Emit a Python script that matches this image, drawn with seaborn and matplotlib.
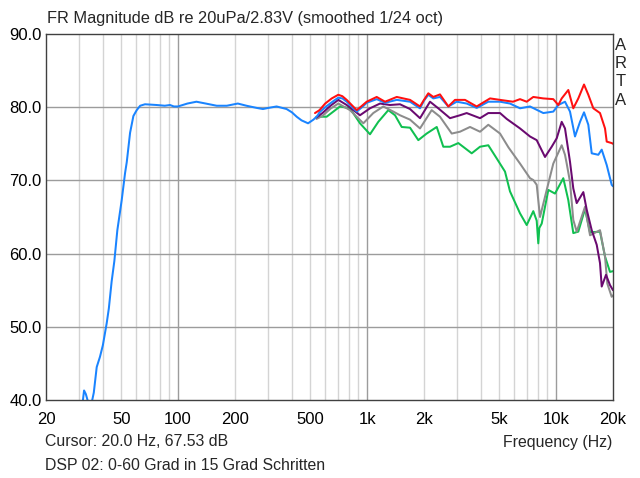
import matplotlib
matplotlib.use("Agg")
import matplotlib.pyplot as plt
import matplotlib.ticker as mticker
import seaborn as sns
import numpy as np

# values (frequency in Hz, level in dB)
blue_f = [31.2, 31.8, 32.5, 33.5, 35.0, 35.8, 37.1, 38.6, 40.0, 41.9, 43.0, 44.5, 46.0, 47.7,
          50.3, 52.4, 53.5, 55.7, 58.0, 60.4, 63.0, 66.8, 77.0, 85.0, 90.6, 95.0, 99.8, 112,
          125, 140, 160, 181, 207, 230, 261, 281, 300, 332, 375, 400, 424, 450, 487, 520, 545,
          560, 600, 660, 704, 740, 780, 881, 940, 995, 1124, 1244, 1435, 1687, 1905, 2000,
          2108, 2240, 2430, 2690, 2978, 3364, 3800, 4378, 5050, 5702, 6442, 7276, 8556, 9664,
          10272, 11144, 11844, 12588, 13382, 14050, 14806, 15432, 16722, 17430, 18526, 19684, 20000]
blue_db = [39.5, 41.3, 40.8, 39.6, 39.8, 41.0, 44.5, 45.9, 47.5, 50.5, 52.5, 56.2, 59.0, 63.2,
           67.3, 71.0, 72.5, 76.5, 78.8, 79.6, 80.2, 80.4, 80.3, 80.2, 80.3, 80.1, 80.1, 80.5,
           80.75, 80.5, 80.2, 80.2, 80.5, 80.2, 79.9, 79.75, 79.9, 80.1, 79.75, 79.3, 78.7, 78.2,
           77.8, 78.3, 78.8, 79.3, 80.0, 80.8, 81.3, 81.2, 80.75, 79.4, 80.0, 80.6, 81.1, 80.6,
           81.0, 80.75, 79.85, 80.9, 81.7, 81.2, 81.4, 80.1, 80.75, 80.5, 79.9, 80.75, 80.75,
           80.5, 79.85, 80.1, 79.2, 79.4, 80.3, 80.75, 79.4, 76.0, 78.0, 79.3, 77.6, 73.7, 73.5,
           74.2, 72.1, 69.4, 69.2]

red_f = [530, 560, 600, 650, 704, 740, 780, 881, 940, 995, 1124, 1244, 1435, 1687, 1905, 2000,
         2108, 2240, 2430, 2690, 2918, 3296, 3800, 4470, 5050, 5914, 6442, 6990, 7574, 8556,
         9664, 10272, 10706, 11602, 12330, 13106, 14050, 14806, 15736, 17072, 18146, 18526,
         19684, 20000]
red_db = [79.2, 79.6, 80.5, 81.2, 81.7, 81.5, 81.0, 79.6, 80.2, 80.75, 81.4, 80.75, 81.4, 81.0,
          80.1, 81.0, 81.9, 81.4, 81.75, 80.1, 81.0, 81.0, 80.1, 81.2, 81.0, 80.75, 81.1, 80.75,
          81.4, 81.2, 81.1, 80.3, 81.2, 82.35, 79.85, 81.2, 83.1, 81.7, 79.85, 79.2, 77.1, 75.3,
          75.1, 75.0]

purple_f = [540, 580, 640, 704, 780, 917, 1036, 1170, 1322, 1493, 1687, 1905, 2152, 2380, 2746,
            3100, 3364, 3958, 4378, 5050, 5478, 6442, 7276, 7894, 8736, 9478, 10074, 10706,
            11144, 11844, 12330, 12852, 13932, 14518, 15432, 16402, 17072, 17430, 18368, 19280,
            20000]
purple_db = [78.6, 79.2, 80.2, 81.0, 80.3, 78.9, 79.85, 80.5, 80.3, 80.4, 79.75, 78.5, 80.75,
             79.85, 78.5, 78.9, 79.2, 78.5, 79.2, 79.2, 78.4, 77.1, 76.0, 75.5, 73.2, 74.6, 75.75,
             78.0, 77.1, 72.55, 68.9, 66.9, 68.4, 66.0, 63.2, 61.2, 58.7, 55.5, 57.1, 55.7, 55.0]

gray_f = [540, 580, 640, 704, 812, 955, 1078, 1218, 1376, 1493, 1687, 1905, 2196, 2430, 2804,
          3100, 3504, 3958, 4378, 5050, 5600, 6442, 7276, 7574, 7894, 8220, 8920, 9664, 10706,
          11144, 11378, 11844, 12330, 12852, 14224, 15116, 17072, 18146, 18660, 19684, 20000]
gray_db = [78.4, 78.8, 79.8, 80.5, 79.6, 77.8, 79.2, 80.1, 79.4, 78.9, 78.3, 77.1, 79.6, 78.7,
           76.4, 76.65, 77.3, 76.65, 77.6, 76.4, 74.5, 72.3, 70.3, 70.05, 69.4, 65.0, 68.7, 72.3,
           74.8, 73.5, 72.3, 69.8, 64.6, 63.0, 66.4, 62.5, 63.2, 59.6, 55.9, 54.1, 54.3]

green_f = [540, 611, 719, 812, 917, 1036, 1146, 1295, 1405, 1524, 1687, 1866, 2066, 2336, 2530,
           2746, 3038, 3576, 3958, 4378, 4850, 5366, 5702, 6442, 6990, 7574, 7894, 8050, 8150,
           8392, 9096, 9866, 10916, 11602, 12330, 13106, 14224, 15116, 17072, 18146, 19280, 20000]
green_db = [78.7, 78.7, 80.1, 79.85, 77.8, 76.3, 78.0, 79.6, 78.9, 77.3, 77.2, 75.5, 76.4, 77.3,
            74.6, 74.6, 75.1, 73.7, 74.6, 74.8, 73.0, 71.2, 68.5, 65.5, 63.9, 65.8, 64.5, 61.4,
            63.5, 64.1, 68.7, 68.2, 70.3, 67.3, 62.8, 63.0, 66.1, 62.9, 63.0, 59.6, 57.5, 57.6]

x_ticks = [20, 50, 100, 200, 500, 1000, 2000, 5000, 10000, 20000]
x_labels = ["20", "50", "100", "200", "500", "1k", "2k", "5k", "10k", "20k"]
y_ticks = [40, 50, 60, 70, 80, 90]

sns.set_theme(style="white")
plt.rcParams['font.family'] = ['Liberation Sans', 'DejaVu Sans']

fig = plt.figure(figsize=(6.4, 4.78), dpi=100)
ax = fig.add_axes([46 / 640, 78 / 478, 567 / 640, 366 / 478])
ax.set_xscale("log")
ax.set_xlim(20, 20000)
ax.set_ylim(40, 90)

# grid: light minor lines, darker decades and 10 dB lines
minor = [m * d for d in (10, 100, 1000) for m in range(2, 10) if 20 < m * d < 20000]
for f in minor:
    ax.axvline(f, color="#D4D4D4", lw=1, zorder=0)
for f in (100, 1000, 10000):
    ax.axvline(f, color="#9C9C9C", lw=1, zorder=0)
for y in y_ticks[1:-1]:
    ax.axhline(y, color="#9C9C9C", lw=1, zorder=0)

lw = 1.45
series = [(green_f, green_db, "#10C050"), (gray_f, gray_db, "#8C8C8C"),
          (purple_f, purple_db, "#6A0A70"), (blue_f, blue_db, "#1A84FF"),
          (red_f, red_db, "#FF1010")]
for f, db, c in series:
    sns.lineplot(x=f, y=db, ax=ax, color=c, lw=lw, estimator=None, sort=False)

ax.xaxis.set_major_locator(mticker.FixedLocator(x_ticks))
ax.xaxis.set_major_formatter(mticker.FixedFormatter(x_labels))
ax.xaxis.set_minor_locator(mticker.NullLocator())
ax.set_yticks(y_ticks)
ax.set_yticklabels([f"{v:.1f}" for v in y_ticks])
ax.tick_params(axis="both", length=0, labelsize=12, colors="black")
ax.tick_params(axis="x", pad=9)
ax.tick_params(axis="y", pad=3)
ax.set_xlabel("")
ax.set_ylabel("")
for s in ax.spines.values():
    s.set_color("#404040")
    s.set_linewidth(1)

fig.text(47 / 640, 1 - 18 / 478, "FR Magnitude dB re 20uPa/2.83V (smoothed 1/24 oct)",
         fontsize=11.8, va="center", ha="left")
for i, ch in enumerate("ARTA"):
    fig.text(621 / 640, 1 - (45 + i * 18.5) / 478, ch, fontsize=12, ha="center", va="center")
fig.text(45 / 640, 1 - 442 / 478, "Cursor: 20.0 Hz, 67.53 dB", fontsize=11.4, va="center")
fig.text(612 / 640, 1 - 442 / 478, "Frequency (Hz)", fontsize=11.4, va="center", ha="right")
fig.text(45 / 640, 1 - 465 / 478, "DSP 02: 0-60 Grad in 15 Grad Schritten", fontsize=11.4,
         va="center")

fig.savefig("out.png", dpi=100)
